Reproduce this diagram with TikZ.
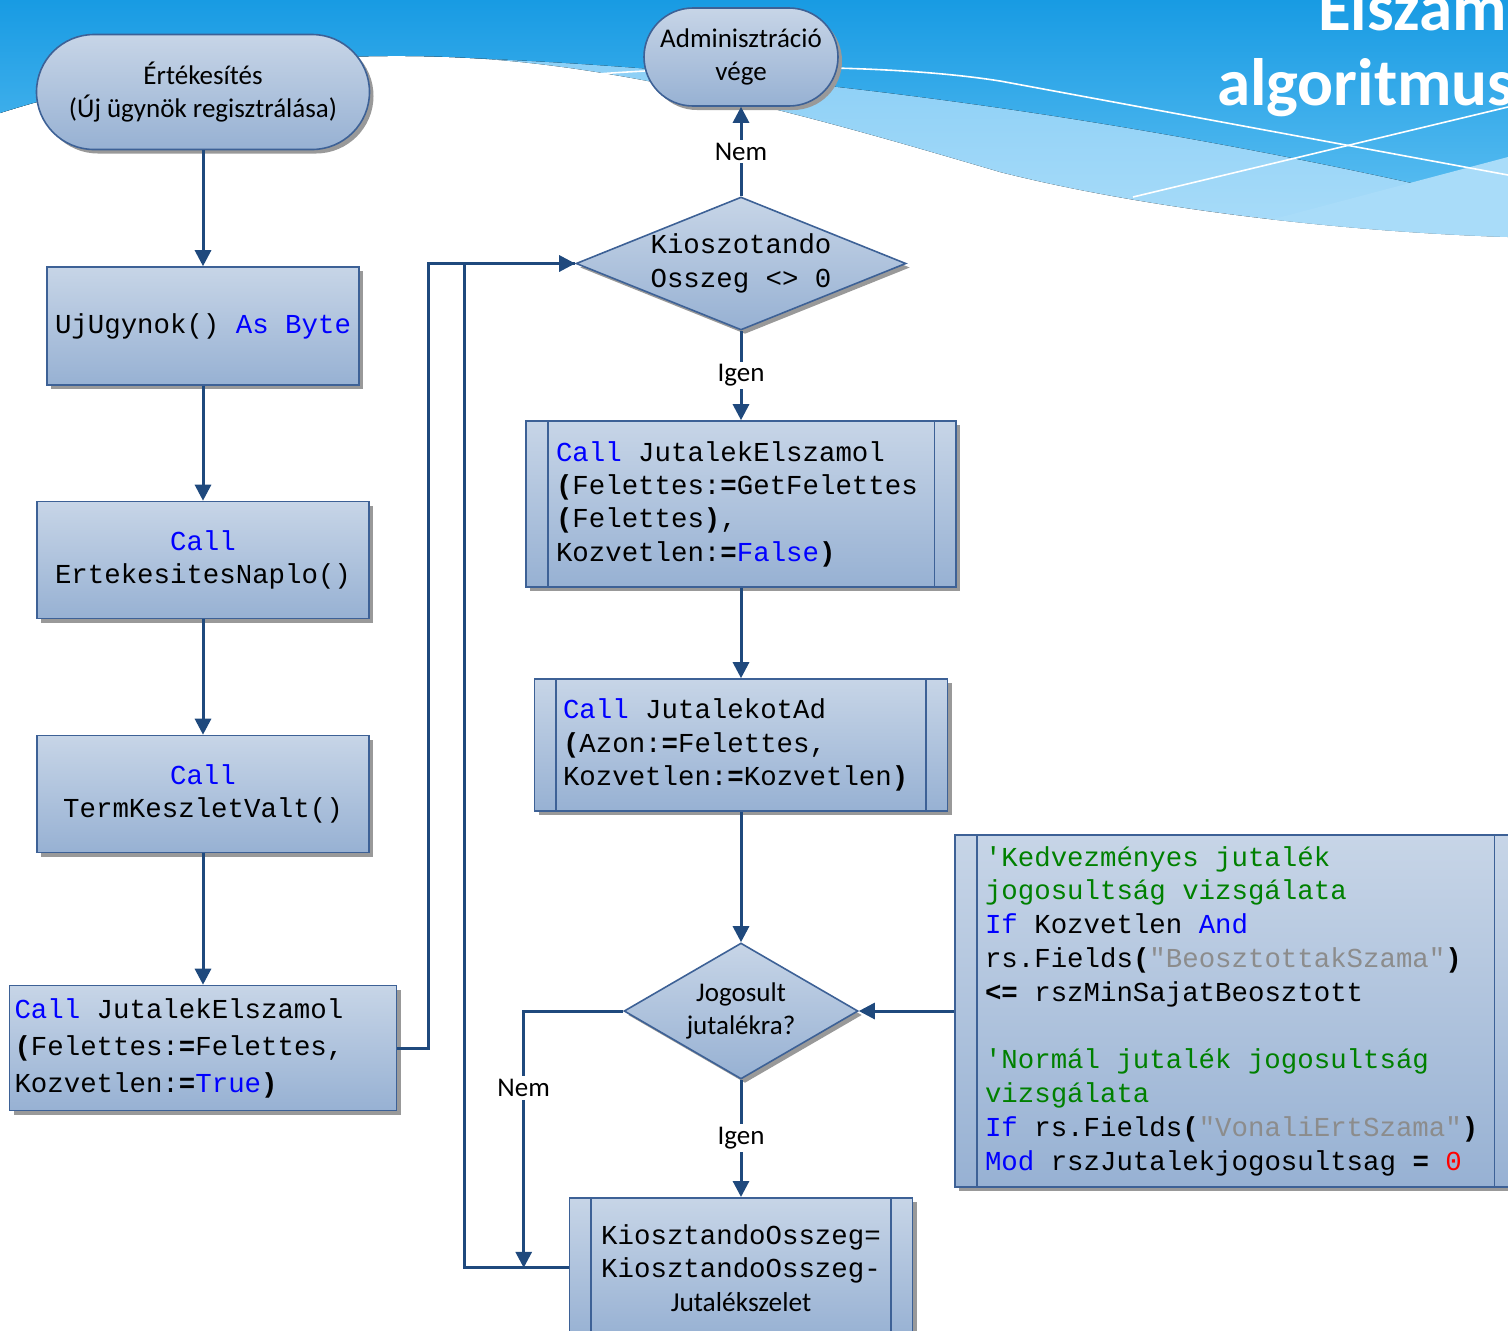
\documentclass[tikz,border=0pt]{standalone}
\usepackage{fontspec}
\setmainfont{Carlito}
\newfontfamily\codefont[Ligatures=TeXOff]{Liberation Mono}
\usetikzlibrary{shapes.geometric,arrows.meta,shadows}

\definecolor{boxtop}{HTML}{C7D5E7}
\definecolor{boxbot}{HTML}{97B1D3}
\definecolor{boxline}{HTML}{3D6196}
\definecolor{flowline}{HTML}{1F497D}
\definecolor{vbblue}{HTML}{0000FF}
\definecolor{vbgreen}{HTML}{008000}
\definecolor{vbgray}{HTML}{8C8C8C}
\definecolor{skytop}{HTML}{189BE3}
\definecolor{skymid}{HTML}{5ABDF1}
\definecolor{skylight}{HTML}{82CBF5}
\definecolor{skypale}{HTML}{A9DCF9}

\newcommand\vbkw[1]{\textcolor{vbblue}{#1}}
\newcommand\vbcmt[1]{\textcolor{vbgreen}{#1}}
\newcommand\vbstr[1]{\textcolor{vbgray}{#1}}
\newcommand\vbbd[1]{\textbf{#1}}
\newcommand\codesize{\codefont\fontsize{13.7}{16.7}\selectfont}
% full-width spaces inside left-aligned code blocks
\newcommand\vbtext{\spaceskip=\fontdimen2\font\relax}

\begin{document}
\begin{tikzpicture}[x=0.5pt,y=-0.5pt,>={Triangle[length=8pt,width=8pt]}]
        \tikzstyle{every node}=[font=\fontsize{13.5}{16.5}\selectfont]
        \tikzstyle{flow}=[draw=boxline,line width=0.8pt,top color=boxtop,bottom color=boxbot,
            drop shadow={shadow xshift=2pt,shadow yshift=-2pt,fill=black!40,opacity=1}]
        \tikzstyle{term}=[flow,rectangle,inner sep=0pt,align=center]
        \tikzstyle{proc}=[flow,rectangle,inner sep=0pt,font=\codesize]
        \tikzstyle{decide}=[flow,diamond,inner sep=0pt,align=center]
        \tikzstyle{link}=[draw=flowline,line width=1.5pt]
        \tikzstyle{answer}=[fill=white,inner sep=1.5pt]
        \tikzstyle{heading}=[anchor=base west,text=white,font=\bfseries\fontsize{33.5}{40}\selectfont]
        \useasboundingbox (0,0) rectangle (1508,1330);
        \clip (0,0) rectangle (1508,1330);
        % header waves
        \def\skyedge{(0,0) -- (0,113) .. controls (150,65) and (330,50) .. (470,58) .. controls (650,68) and (850,128) .. (1000,172) .. controls (1150,210) and (1350,232) .. (1508,237) -- (1508,0) -- cycle}
        \fill[top color=skylight,bottom color=skypale] \skyedge;
        \begin{scope}
            \clip \skyedge;
            \fill[top color=skytop,bottom color=skymid] (0,0) -- (0,113) .. controls (150,65) and (330,50) .. (470,58) .. controls (800,72) and (1150,120) .. (1508,205) -- (1508,0) -- cycle;
            \fill[skypale] (1100,265) -- (1508,157) -- (1508,300) -- cycle;
        \end{scope}
        \draw[white,line width=0.8pt] (530,80) .. controls (680,64) and (880,62) .. (1000,81) -- (1508,175);
        \draw[white,line width=0.8pt] (1133,197) -- (1508,107);
        \node[heading] (title1) at (1311,30) {Elszámo};
        \node[heading] (title2) at (1210,105) {algoritmus};
        % left column
        \node[term,minimum width=166.5pt,minimum height=57.5pt,rounded corners=28.75pt] (sales) at (203,92) {Értékesítés\\(Új ügynök regisztrálása)};
        \node[proc,minimum width=156pt,minimum height=59pt] (newagent) at (203,326) {UjUgynok() \vbkw{As Byte}};
        \node[proc,minimum width=166pt,minimum height=58.5pt,align=center] (salelog) at (203,560) {\vbkw{Call}\\ErtekesitesNaplo()};
        \node[proc,minimum width=166pt,minimum height=58.5pt,align=center] (stock) at (203,794) {\vbkw{Call}\\TermKeszletValt()};
        \node[proc,minimum width=193.5pt,minimum height=62.5pt,text width=188.5pt,align=left,font={\codefont\fontsize{13.7}{18.5}\selectfont}] (payleft) at (203,1048)
            {\vbtext\vbkw{Call} JutalekElszamol\\\vbbd{(}Felettes:\vbbd{=}Felettes,\\Kozvetlen:\vbbd{=}\vbkw{True}\vbbd{)}};
        % right column
        \node[term,minimum width=97pt,minimum height=49pt,rounded corners=24.5pt] (done) at (741,57) {Adminisztráció\\vége};
        \node[decide,aspect=2.48,minimum width=165pt,minimum height=66.5pt,font=\codesize] (remain) at (741,263.5) {Kioszotando\\Osszeg <> 0};
        \node[proc,minimum width=215pt,minimum height=83pt,text width=185pt,align=left] (payup) at (741,504)
            {\vbtext\vbkw{Call} JutalekElszamol\\\vbbd{(}Felettes:\vbbd{=}GetFelettes\\\vbbd{(}Felettes\vbbd{)},\\Kozvetlen:\vbbd{=}\vbkw{False}\vbbd{)}};
        \node[proc,minimum width=206.5pt,minimum height=66pt,text width=178pt,align=left] (give) at (741,745)
            {\vbtext\vbkw{Call} JutalekotAd\\\vbbd{(}Azon:\vbbd{=}Felettes,\\Kozvetlen:\vbbd{=}Kozvetlen\vbbd{)}};
        \node[decide,aspect=1.72,minimum width=117pt,minimum height=68pt] (eligible) at (741,1011) {Jogosult\\jutalékra?};
        \node[proc,minimum width=280.5pt,minimum height=176pt,text width=250.5pt,align=left,font={\codefont\fontsize{13.7}{16.9}\selectfont}] (check) at (1235.5,1011)
            {\vbtext\vbcmt{'Kedvezményes jutalék}\\\vbcmt{jogosultság vizsgálata}\\\vbkw{If} Kozvetlen \vbkw{And}\\rs.Fields\vbbd{(}\vbstr{"BeosztottakSzama"}\vbbd{)}\\\vbbd{<=} rszMinSajatBeosztott\\[16.9pt]
             \vbcmt{'Normál jutalék jogosultság}\\\vbcmt{vizsgálata}\\\vbkw{If} rs.Fields\vbbd{(}\vbstr{"VonaliErtSzama"}\vbbd{)}\\\vbkw{Mod} rszJutalekjogosultsag \vbbd{=} \textcolor{red}{0}};
        \node[proc,anchor=north,minimum width=171.5pt,minimum height=70pt,align=center] (subtract) at (741,1197)
            {KiosztandoOsszeg=\\KiosztandoOsszeg-\\{\rmfamily Jutalékszelet}};
        \foreach \n in {payup,give,check,subtract}
            \draw[boxline,line width=0.8pt] ([xshift=11.25pt]\n.north west) -- ([xshift=11.25pt]\n.south west)
                ([xshift=-11.25pt]\n.north east) -- ([xshift=-11.25pt]\n.south east);
        % connectors
        \draw[link,->] (sales) -- (newagent);
        \draw[link,->] (newagent) -- (salelog);
        \draw[link,->] (salelog) -- (stock);
        \draw[link,->] (stock) -- (payleft);
        \draw[link,->] (payleft.east) -- ++(15.5pt,0) |- (remain.west);
        \draw[link] (subtract.west) -- ++(-52pt,0) |- (remain.west);
        \draw[link,->] (remain.north) -- node[answer] {Nem} (done.south);
        \draw[link,->] (remain.south) -- node[answer] {Igen} (payup.north);
        \draw[link,->] (payup) -- (give);
        \draw[link,->] (give) -- (eligible);
        \draw[link,->] (check.west) -- (eligible.east);
        \draw[link,->] (eligible.west) -| node[answer,pos=0.65] {Nem} ([xshift=-22.5pt]subtract.west);
        \draw[link,->] (eligible.south) -- node[answer] {Igen} (subtract.north);
\end{tikzpicture}
\end{document}
